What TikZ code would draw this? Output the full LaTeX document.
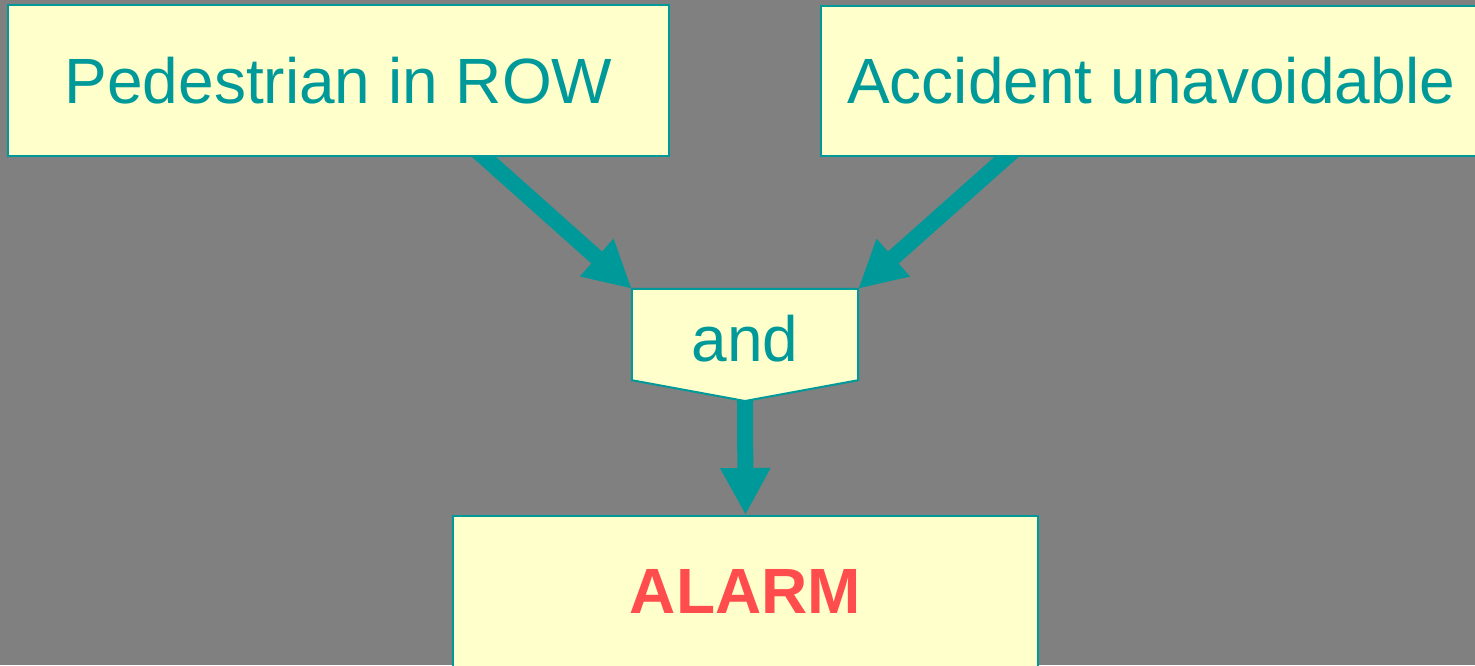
\documentclass[tikz,border=0pt]{standalone}
\usepackage{fontspec}
\setmainfont{Liberation Sans}
\usetikzlibrary{arrows.meta}
\pgfdeclarelayer{back}
\pgfsetlayers{back,main}
\definecolor{bg}{HTML}{808080}
\definecolor{teal}{HTML}{009999}
\definecolor{boxfill}{HTML}{FFFFCC}
\definecolor{alarmred}{HTML}{FF4D4D}
\tikzset{
  box/.style={draw=teal, fill=boxfill, line width=2pt, inner sep=0pt,
    text=teal, font=\fontsize{64}{77}\selectfont},
  conn/.style={draw=teal, line width=16pt, -{Triangle[length=47pt,width=47pt]}},
}
\begin{document}
\begin{tikzpicture}[x=1pt,y=-1pt]
\useasboundingbox (0,0) rectangle (1475,665);
\clip (0,0) rectangle (1475,665);
\node[box, minimum width=661pt, minimum height=151pt] (p1) at (338.5,80.5) {Pedestrian in ROW};
\node[box, minimum width=661pt, minimum height=150pt] (p2) at (1151.5,81) {Accident unavoidable};
\node[inner sep=0pt, minimum width=226pt, minimum height=91pt] (and) at (745,334.5) {};
\coordinate (andtip) at (745,401);
\coordinate (andin) at (745,390);
\filldraw[draw=teal, fill=boxfill, line width=2pt]
  (and.north west) -- (and.north east) -- (and.south east) -- (andtip) -- (and.south west) -- cycle;
\node[text=teal, font=\fontsize{64}{77}\selectfont, anchor=base] (andtext) at (745,361) {and};
\node[box, minimum width=585pt, minimum height=151pt, text=alarmred, font=\fontsize{64}{77}\selectfont\bfseries] (alarm) at (745.5,591.5) {ALARM};
\coordinate (s1) at (465,140);
\coordinate (s2) at (1025.5,140);
\begin{pgfonlayer}{back}
\fill[bg] (0,0) rectangle (1475,665);
\draw[conn] (s1) -- (and.north west);
\draw[conn] (s2) -- (and.north east);
\draw[conn] (andin) -- (alarm.north);
\end{pgfonlayer}
\end{tikzpicture}
\end{document}
